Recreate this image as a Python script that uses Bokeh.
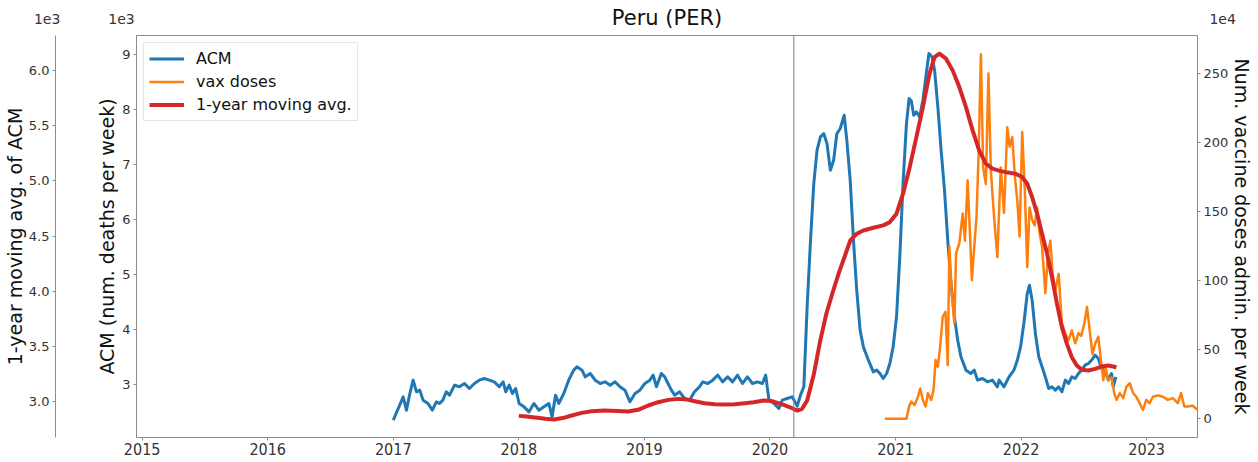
from bokeh.plotting import figure
from bokeh.models import (Range1d, LinearAxis, FixedTicker, CustomJSTickFormatter,
                          Span, Label, Legend)
from bokeh.embed import file_html
from bokeh.resources import INLINE

# ---------------- data ----------------
# weekly all-cause mortality (deaths per week), decimal-year dates
acm_year = [2017.000, 2017.040, 2017.079, 2017.105, 2017.132, 2017.158, 2017.185, 2017.211, 2017.237, 2017.277,
            2017.311, 2017.343, 2017.369, 2017.395, 2017.422, 2017.448, 2017.488, 2017.527, 2017.567, 2017.606,
            2017.646, 2017.685, 2017.725, 2017.765, 2017.804, 2017.844, 2017.875, 2017.896, 2017.923, 2017.949,
            2017.975, 2018.002, 2018.041, 2018.081, 2018.120, 2018.160, 2018.200, 2018.239, 2018.265, 2018.292,
            2018.318, 2018.358, 2018.397, 2018.437, 2018.463, 2018.503, 2018.529, 2018.569, 2018.608, 2018.648,
            2018.687, 2018.727, 2018.766, 2018.806, 2018.845, 2018.885, 2018.925, 2018.964, 2019.004, 2019.043,
            2019.070, 2019.096, 2019.135, 2019.162, 2019.188, 2019.215, 2019.241, 2019.281, 2019.320, 2019.360,
            2019.399, 2019.439, 2019.465, 2019.505, 2019.544, 2019.584, 2019.623, 2019.663, 2019.702, 2019.742,
            2019.781, 2019.821, 2019.861, 2019.900, 2019.940, 2019.966, 2019.992, 2020.032, 2020.071, 2020.098,
            2020.137, 2020.177, 2020.217, 2020.243, 2020.270, 2020.296, 2020.323, 2020.349, 2020.375, 2020.402,
            2020.428, 2020.454, 2020.481, 2020.507, 2020.533, 2020.560, 2020.591, 2020.612, 2020.639, 2020.665,
            2020.691, 2020.718, 2020.744, 2020.784, 2020.823, 2020.850, 2020.876, 2020.902, 2020.929, 2020.955,
            2020.981, 2021.008, 2021.034, 2021.060, 2021.087, 2021.108, 2021.126, 2021.145, 2021.166, 2021.192,
            2021.218, 2021.245, 2021.266, 2021.292, 2021.311, 2021.337, 2021.363, 2021.390, 2021.416, 2021.442,
            2021.469, 2021.495, 2021.521, 2021.561, 2021.601, 2021.627, 2021.653, 2021.693, 2021.732, 2021.772,
            2021.811, 2021.825, 2021.864, 2021.904, 2021.943, 2021.970, 2021.996, 2022.022, 2022.049, 2022.067,
            2022.088, 2022.114, 2022.141, 2022.167, 2022.193, 2022.220, 2022.246, 2022.273, 2022.299, 2022.325,
            2022.352, 2022.378, 2022.404, 2022.431, 2022.457, 2022.483, 2022.510, 2022.536, 2022.562, 2022.589,
            2022.615, 2022.641, 2022.668, 2022.694, 2022.720, 2022.734, 2022.755]
acm_deaths = [2345, 2558, 2770, 2527, 2830, 3073, 2861, 2891, 2709, 2649,
              2527, 2679, 2649, 2709, 2861, 2800, 2982, 2952, 3012, 2921,
              3012, 3073, 3103, 3073, 3042, 2952, 3042, 2861, 2982, 2830,
              2921, 2649, 2588, 2497, 2649, 2527, 2588, 2649, 2406, 2800,
              2649, 2830, 3073, 3255, 3315, 3255, 3133, 3194, 3073, 3012,
              3042, 2982, 3042, 2952, 2891, 2679, 2830, 2891, 3012, 3073,
              3164, 2952, 3194, 3133, 3012, 2891, 2800, 2861, 2739, 2709,
              2861, 2952, 3042, 3012, 3073, 3164, 3042, 3133, 3042, 3164,
              3012, 3133, 3012, 3042, 3012, 3164, 2709, 2649, 2558, 2709,
              2739, 2770, 2600, 2800, 2952, 4406, 5618, 6648, 7254, 7497,
              7557, 7375, 6891, 7072, 7557, 7649, 7890, 7436, 6709, 5618,
              4709, 3982, 3678, 3436, 3224, 3255, 3194, 3103, 3194, 3376,
              3678, 4224, 5315, 6654, 7739, 8194, 8150, 7890, 7950, 7860,
              8164, 8649, 9012, 8950, 8709, 8042, 7254, 6527, 5618, 4830,
              4224, 3800, 3497, 3255, 3194, 3255, 3073, 3103, 3042, 3073,
              2952, 3073, 2952, 3133, 3255, 3436, 3678, 4103, 4648, 4800,
              4527, 3921, 3497, 3315, 3133, 2921, 2952, 2891, 2952, 2861,
              3073, 3012, 3133, 3103, 3194, 3255, 3345, 3376, 3436, 3527,
              3467, 3285, 3255, 3073, 3194, 2952, 3133]

# vaccine doses administered per week (units of 1e4 doses)
vax_year = [2020.915, 2021.087, 2021.108, 2021.126, 2021.152, 2021.179, 2021.197, 2021.218, 2021.240, 2021.258,
            2021.284, 2021.303, 2021.319, 2021.337, 2021.355, 2021.376, 2021.398, 2021.416, 2021.429, 2021.448,
            2021.469, 2021.482, 2021.508, 2021.535, 2021.553, 2021.574, 2021.593, 2021.608, 2021.627, 2021.645,
            2021.661, 2021.680, 2021.698, 2021.719, 2021.740, 2021.759, 2021.785, 2021.811, 2021.838, 2021.864,
            2021.890, 2021.909, 2021.930, 2021.951, 2021.970, 2021.988, 2022.009, 2022.030, 2022.049, 2022.067,
            2022.088, 2022.109, 2022.128, 2022.146, 2022.167, 2022.193, 2022.215, 2022.233, 2022.251, 2022.273,
            2022.299, 2022.325, 2022.352, 2022.378, 2022.404, 2022.431, 2022.457, 2022.478, 2022.504, 2022.525,
            2022.549, 2022.568, 2022.589, 2022.615, 2022.636, 2022.655, 2022.673, 2022.694, 2022.720, 2022.742,
            2022.760, 2022.786, 2022.813, 2022.839, 2022.865, 2022.892, 2022.918, 2022.944, 2022.971, 2022.997,
            2023.023, 2023.050, 2023.089, 2023.129, 2023.169, 2023.208, 2023.248, 2023.274, 2023.300, 2023.327,
            2023.366, 2023.406]
vax_doses_1e4 = [0, 0, 8.9, 12.5, 10, 16, 22, 13.7, 9, 18.6,
                 13.7, 21, 42.6, 37.8, 52, 74, 77.5, 39, 124.5, 90.8,
                 69, 119.7, 127, 148.6, 129, 172.7, 134, 100.4, 124.5, 146,
                 189.5, 264, 182, 170, 250, 180, 146, 117, 182, 149,
                 211, 197, 204, 175, 158, 132, 207.6, 165, 110, 153,
                 144, 140, 153, 135, 124.5, 91, 120, 129, 105, 93,
                 105, 69, 62, 57, 64, 54.7, 62, 60, 69, 81,
                 62, 47, 54, 59.5, 42.6, 28, 37.8, 28, 30, 18.6,
                 13.7, 18.6, 15, 23.3, 25.8, 18.6, 16, 11.3, 6.5, 13.7,
                 11.3, 16, 17, 16, 13.7, 15, 11.3, 18.6, 8.9, 8.9,
                 9.5, 6.5]

# 1-year moving average of ACM (deaths per week)
ma_year = [2018.000, 2018.060, 2018.130, 2018.210, 2018.280, 2018.350, 2018.420, 2018.500, 2018.580, 2018.680,
           2018.790, 2018.870, 2018.950, 2019.030, 2019.110, 2019.190, 2019.270, 2019.340, 2019.400, 2019.480,
           2019.560, 2019.640, 2019.720, 2019.800, 2019.870, 2019.950, 2020.010, 2020.060, 2020.110, 2020.160,
           2020.217, 2020.256, 2020.296, 2020.350, 2020.400, 2020.450, 2020.500, 2020.550, 2020.600, 2020.640,
           2020.690, 2020.744, 2020.823, 2020.902, 2020.955, 2021.008, 2021.060, 2021.113, 2021.166, 2021.218,
           2021.271, 2021.311, 2021.350, 2021.402, 2021.455, 2021.508, 2021.561, 2021.614, 2021.666, 2021.719,
           2021.772, 2021.830, 2021.877, 2021.956, 2022.009, 2022.049, 2022.088, 2022.128, 2022.167, 2022.207,
           2022.246, 2022.286, 2022.325, 2022.365, 2022.404, 2022.444, 2022.483, 2022.536, 2022.589, 2022.641,
           2022.694, 2022.760]
ma_deaths = [2870, 2865, 2855, 2843, 2837, 2850, 2873, 2897, 2912, 2918,
             2915, 2909, 2925, 2964, 2994, 3015, 3024, 3018, 3003, 2985,
             2976, 2973, 2975, 2985, 2994, 3009, 3005, 2988, 2970, 2948,
             2918, 2934, 3009, 3250, 3550, 3800, 3990, 4170, 4330, 4460,
             4520, 4550, 4575, 4596, 4626, 4702, 4883, 5124, 5396, 5668,
             5971, 6121, 6152, 6107, 6001, 5850, 5668, 5457, 5276, 5155,
             5110, 5090, 5079, 5064, 5034, 4973, 4852, 4702, 4520, 4339,
             4127, 3886, 3674, 3523, 3402, 3326, 3287, 3281, 3296, 3317,
             3326, 3311]

x_ticks = [2015, 2016, 2017, 2018, 2019, 2020, 2021, 2022, 2023]
acm_ticks = [3000, 4000, 5000, 6000, 7000, 8000, 9000]
ma_ticks = [3000, 3500, 4000, 4500, 5000, 5500, 6000]
vax_ticks = [0, 500000, 1000000, 1500000, 2000000, 2500000]
pandemic_start = 2020.19

vax_doses = [v * 1e4 for v in vax_doses_1e4]

# ---------------- figure ----------------
FONT = "DejaVu Sans"
TICK_COLOR = "#333333"
SPINE = "#8c8c8c"

p = figure(width=1256, height=460, output_backend="svg", toolbar_location=None,
           x_range=Range1d(2014.955, 2023.405), y_range=Range1d(2030, 9340),
           min_border_left=131, min_border_right=56, min_border_top=35, min_border_bottom=23,
           title="Peru (PER)")
p.extra_y_ranges = {"vax": Range1d(-135000, 2775000), "ma": Range1d(2674, 6317)}
p.grid.visible = False
p.outline_line_color = SPINE
p.outline_line_width = 1
p.background_fill_color = "white"
p.border_fill_color = "white"

p.title.align = "center"
p.title.text_font = FONT
p.title.text_font_size = "21px"
p.title.text_font_style = "normal"
p.title.text_color = "#111111"
# the multiplier labels below take ~28px of the top band; a negative standoff
# lets the title sit in the same band at the reference height
try:
    p.title.standoff = -48
except Exception:
    p.title.standoff = 0


def style_axis(ax, label_size="19px"):
    ax.axis_line_color = SPINE
    ax.major_tick_line_color = SPINE
    ax.minor_tick_line_color = None
    ax.major_tick_in = 0
    ax.major_tick_out = 3
    ax.major_label_standoff = 3
    ax.major_label_text_font = FONT
    ax.major_label_text_font_size = "13px"
    ax.major_label_text_color = TICK_COLOR
    ax.axis_label_text_font = FONT
    ax.axis_label_text_font_size = label_size
    ax.axis_label_text_font_style = "normal"
    ax.axis_label_text_color = "#111111"


# x axis
xa = p.xaxis[0]
style_axis(xa)
xa.ticker = FixedTicker(ticks=x_ticks)
xa.formatter = CustomJSTickFormatter(code="return tick.toFixed(0);")
xa.major_label_text_font = "DejaVu Sans Condensed, Liberation Sans Narrow, DejaVu Sans"
xa.major_label_text_font_size = "16px"
xa.major_label_standoff = 2

# ACM axis (inner left)
ya = p.yaxis[0]
style_axis(ya)
ya.ticker = FixedTicker(ticks=acm_ticks)
ya.formatter = CustomJSTickFormatter(code="return (tick/1000).toFixed(0);")
ya.axis_label = "ACM (num. deaths per week)"
ya.axis_label_standoff = 1

# empty spacer axis between the two left axes
spacer = LinearAxis(y_range_name="ma", ticker=FixedTicker(ticks=[]),
                    axis_line_color=None, major_tick_line_color=None, minor_tick_line_color=None,
                    major_tick_in=0, major_tick_out=0, major_label_standoff=0,
                    axis_label=" ", axis_label_standoff=0, axis_label_text_font_size="31px")
p.add_layout(spacer, "left")

# moving-average axis (outer left)
ma_axis = LinearAxis(y_range_name="ma")
style_axis(ma_axis)
ma_axis.ticker = FixedTicker(ticks=ma_ticks)
ma_axis.formatter = CustomJSTickFormatter(code="return (tick/1000).toFixed(1);")
ma_axis.axis_label = "1-year moving avg. of ACM"
ma_axis.axis_label_standoff = 0
p.add_layout(ma_axis, "left")

# vaccine axis (right)
vax_axis = LinearAxis(y_range_name="vax")
style_axis(vax_axis)
vax_axis.ticker = FixedTicker(ticks=vax_ticks)
vax_axis.formatter = CustomJSTickFormatter(code="return (tick/10000).toFixed(0);")
vax_axis.axis_label = "Num. vaccine doses admin. per week"
vax_axis.axis_label_standoff = 0
p.add_layout(vax_axis, "right")

# axis multipliers ("1e3" / "1e4"), placed in data units inside the top side
# panel so that they are not clipped to the plot frame
mult_y = 9631
for xpos, txt in [(2014.243, "1e3"), (2014.835, "1e3"), (2023.605, "1e4")]:
    p.add_layout(Label(x=xpos, y=mult_y, text=txt,
                       text_align="center", text_baseline="middle",
                       text_font=FONT, text_font_size="14px", text_color=TICK_COLOR), "above")

# pandemic declaration line
p.add_layout(Span(location=pandemic_start, dimension="height", line_color="#7f7f7f", line_width=1))

# series
r_acm = p.line(acm_year, acm_deaths, line_color="#1f77b4", line_width=3, line_join="round")
r_vax = p.line(vax_year, vax_doses, y_range_name="vax", line_color="#ff7f0e", line_width=2.5, line_join="round")
r_ma = p.line(ma_year, ma_deaths, y_range_name="ma", line_color="#d62728", line_width=4, line_join="round")

legend = Legend(items=[("ACM", [r_acm]), ("vax doses", [r_vax]), ("1-year moving avg.", [r_ma])],
                location="top_left")
legend.margin = 7
legend.padding = 5
legend.spacing = 2
legend.glyph_width = 35
legend.glyph_height = 21
legend.label_height = 21
legend.label_standoff = 12
legend.label_text_font = FONT
legend.label_text_font_size = "16px"
legend.label_text_color = "#111111"
legend.border_line_color = "#cccccc"
legend.background_fill_alpha = 0.8
p.add_layout(legend, "center")

open("out.html", "w").write(file_html(p, INLINE))
